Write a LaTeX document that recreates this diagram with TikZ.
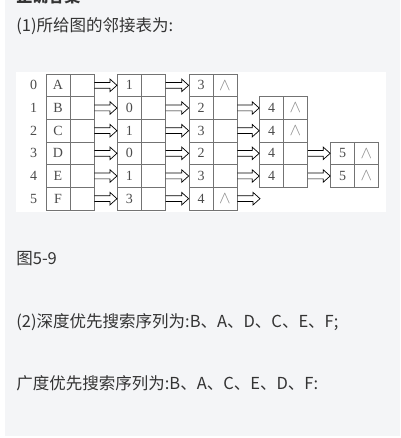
\documentclass[tikz,border=0pt]{standalone}
\usepackage{fontspec}
\setmainfont{Liberation Serif}
\newfontfamily\cjk{Noto Sans CJK SC}
\usetikzlibrary{calc,positioning}
\definecolor{panel}{RGB}{244,245,247}
\newcommand\nilmark{{\color{black!45}\fontsize{17}{17}\selectfont$\wedge$}}

\begin{document}
\begin{tikzpicture}
[x=1pt, y=-1pt, font=\fontsize{14}{14}\selectfont, line width=0.7pt,
cell/.style={rectangle, draw=black!55, text=black!70, inner sep=0pt, minimum width=24pt, minimum height=22.67pt},
idx/.style={text=black!70, inner sep=0pt},
harrow/.style={draw=black!55, to path={($(\tikztostart)+(0,-2.9)$) -- ($(\tikztotarget)+(-7,-2.9)$) -- ($(\tikztotarget)+(-7,-6.3)$) -- (\tikztotarget) -- ($(\tikztotarget)+(-7,6.3)$) -- ($(\tikztotarget)+(-7,2.9)$) -- ($(\tikztostart)+(0,2.9)$)}},
txt/.style={anchor=west, inner sep=0pt, text=black!80, font=\cjk\fontsize{16.5}{16.5}\selectfont}
]
\useasboundingbox (0,0) rectangle (400,438);
\clip (0,0) rectangle (400,438);
\fill[white] (0,0) rectangle (400,438);
\fill[panel] (5,0) rectangle (400,436);
\fill[white] (16,72) rectangle (386,212);

\node[txt, font=\cjk\bfseries\fontsize{16}{16}\selectfont] (head) at (16,-4) {正确答案};
\node[txt] (q1) at (16,26) {(1)所给图的邻接表为:};

% vertex table
\node[idx] (i0) at (33.5,85.33) {0};
\node[idx] (i1) at (33.5,108.00) {1};
\node[idx] (i2) at (33.5,130.67) {2};
\node[idx] (i3) at (33.5,153.33) {3};
\node[idx] (i4) at (33.5,176.00) {4};
\node[idx] (i5) at (33.5,198.67) {5};

\node[cell] (v0) at (58,85.33) {A};
\node[cell] (v1) at (58,108.00) {B};
\node[cell] (v2) at (58,130.67) {C};
\node[cell] (v3) at (58,153.33) {D};
\node[cell] (v4) at (58,176.00) {E};
\node[cell] (v5) at (58,198.67) {F};
\node[cell] (v0n) at (82,85.33) {};
\node[cell] (v1n) at (82,108.00) {};
\node[cell] (v2n) at (82,130.67) {};
\node[cell] (v3n) at (82,153.33) {};
\node[cell] (v4n) at (82,176.00) {};
\node[cell] (v5n) at (82,198.67) {};

% first edge nodes
\node[cell] (a10) at (129.3,85.33) {1};
\node[cell] (a11) at (129.3,108.00) {0};
\node[cell] (a12) at (129.3,130.67) {1};
\node[cell] (a13) at (129.3,153.33) {0};
\node[cell] (a14) at (129.3,176.00) {1};
\node[cell] (a15) at (129.3,198.67) {3};
\node[cell] (a10n) at (153.3,85.33) {};
\node[cell] (a11n) at (153.3,108.00) {};
\node[cell] (a12n) at (153.3,130.67) {};
\node[cell] (a13n) at (153.3,153.33) {};
\node[cell] (a14n) at (153.3,176.00) {};
\node[cell] (a15n) at (153.3,198.67) {};

% second edge nodes
\node[cell] (a20) at (201,85.33) {3};
\node[cell] (a21) at (201,108.00) {2};
\node[cell] (a22) at (201,130.67) {3};
\node[cell] (a23) at (201,153.33) {2};
\node[cell] (a24) at (201,176.00) {3};
\node[cell] (a25) at (201,198.67) {4};
\node[cell] (a20n) at (225,85.33) {\nilmark};
\node[cell] (a21n) at (225,108.00) {};
\node[cell] (a22n) at (225,130.67) {};
\node[cell] (a23n) at (225,153.33) {};
\node[cell] (a24n) at (225,176.00) {};
\node[cell] (a25n) at (225,198.67) {\nilmark};

% third edge nodes
\node[cell] (a31) at (271.5,108.00) {4};
\node[cell] (a32) at (271.5,130.67) {4};
\node[cell] (a33) at (271.5,153.33) {4};
\node[cell] (a34) at (271.5,176.00) {4};
\node[cell] (a31n) at (295.5,108.00) {\nilmark};
\node[cell] (a32n) at (295.5,130.67) {\nilmark};
\node[cell] (a33n) at (295.5,153.33) {};
\node[cell] (a34n) at (295.5,176.00) {};

% fourth edge nodes
\node[cell] (a43) at (342.5,153.33) {5};
\node[cell] (a44) at (342.5,176.00) {5};
\node[cell] (a43n) at (366.5,153.33) {\nilmark};
\node[cell] (a44n) at (366.5,176.00) {\nilmark};

\coordinate (tail5) at (260,198.67);

\draw (v0n.east) to[harrow] (a10.west);
\draw (v1n.east) to[harrow] (a11.west);
\draw (v2n.east) to[harrow] (a12.west);
\draw (v3n.east) to[harrow] (a13.west);
\draw (v4n.east) to[harrow] (a14.west);
\draw (v5n.east) to[harrow] (a15.west);

\draw (a10n.east) to[harrow] (a20.west);
\draw (a11n.east) to[harrow] (a21.west);
\draw (a12n.east) to[harrow] (a22.west);
\draw (a13n.east) to[harrow] (a23.west);
\draw (a14n.east) to[harrow] (a24.west);
\draw (a15n.east) to[harrow] (a25.west);

\draw (a21n.east) to[harrow] (a31.west);
\draw (a22n.east) to[harrow] (a32.west);
\draw (a23n.east) to[harrow] (a33.west);
\draw (a24n.east) to[harrow] (a34.west);
\draw (a25n.east) to[harrow] (tail5);

\draw (a33n.east) to[harrow] (a43.west);
\draw (a34n.east) to[harrow] (a44.west);

\node[txt] (cap) at (16,259) {图5-9};
\node[txt] (q2) at (16,322) {(2)深度优先搜索序列为:B、A、D、C、E、F;};
\node[txt] (q3) at (16,383) {广度优先搜索序列为:B、A、C、E、D、F:};
\end{tikzpicture}
\end{document}
